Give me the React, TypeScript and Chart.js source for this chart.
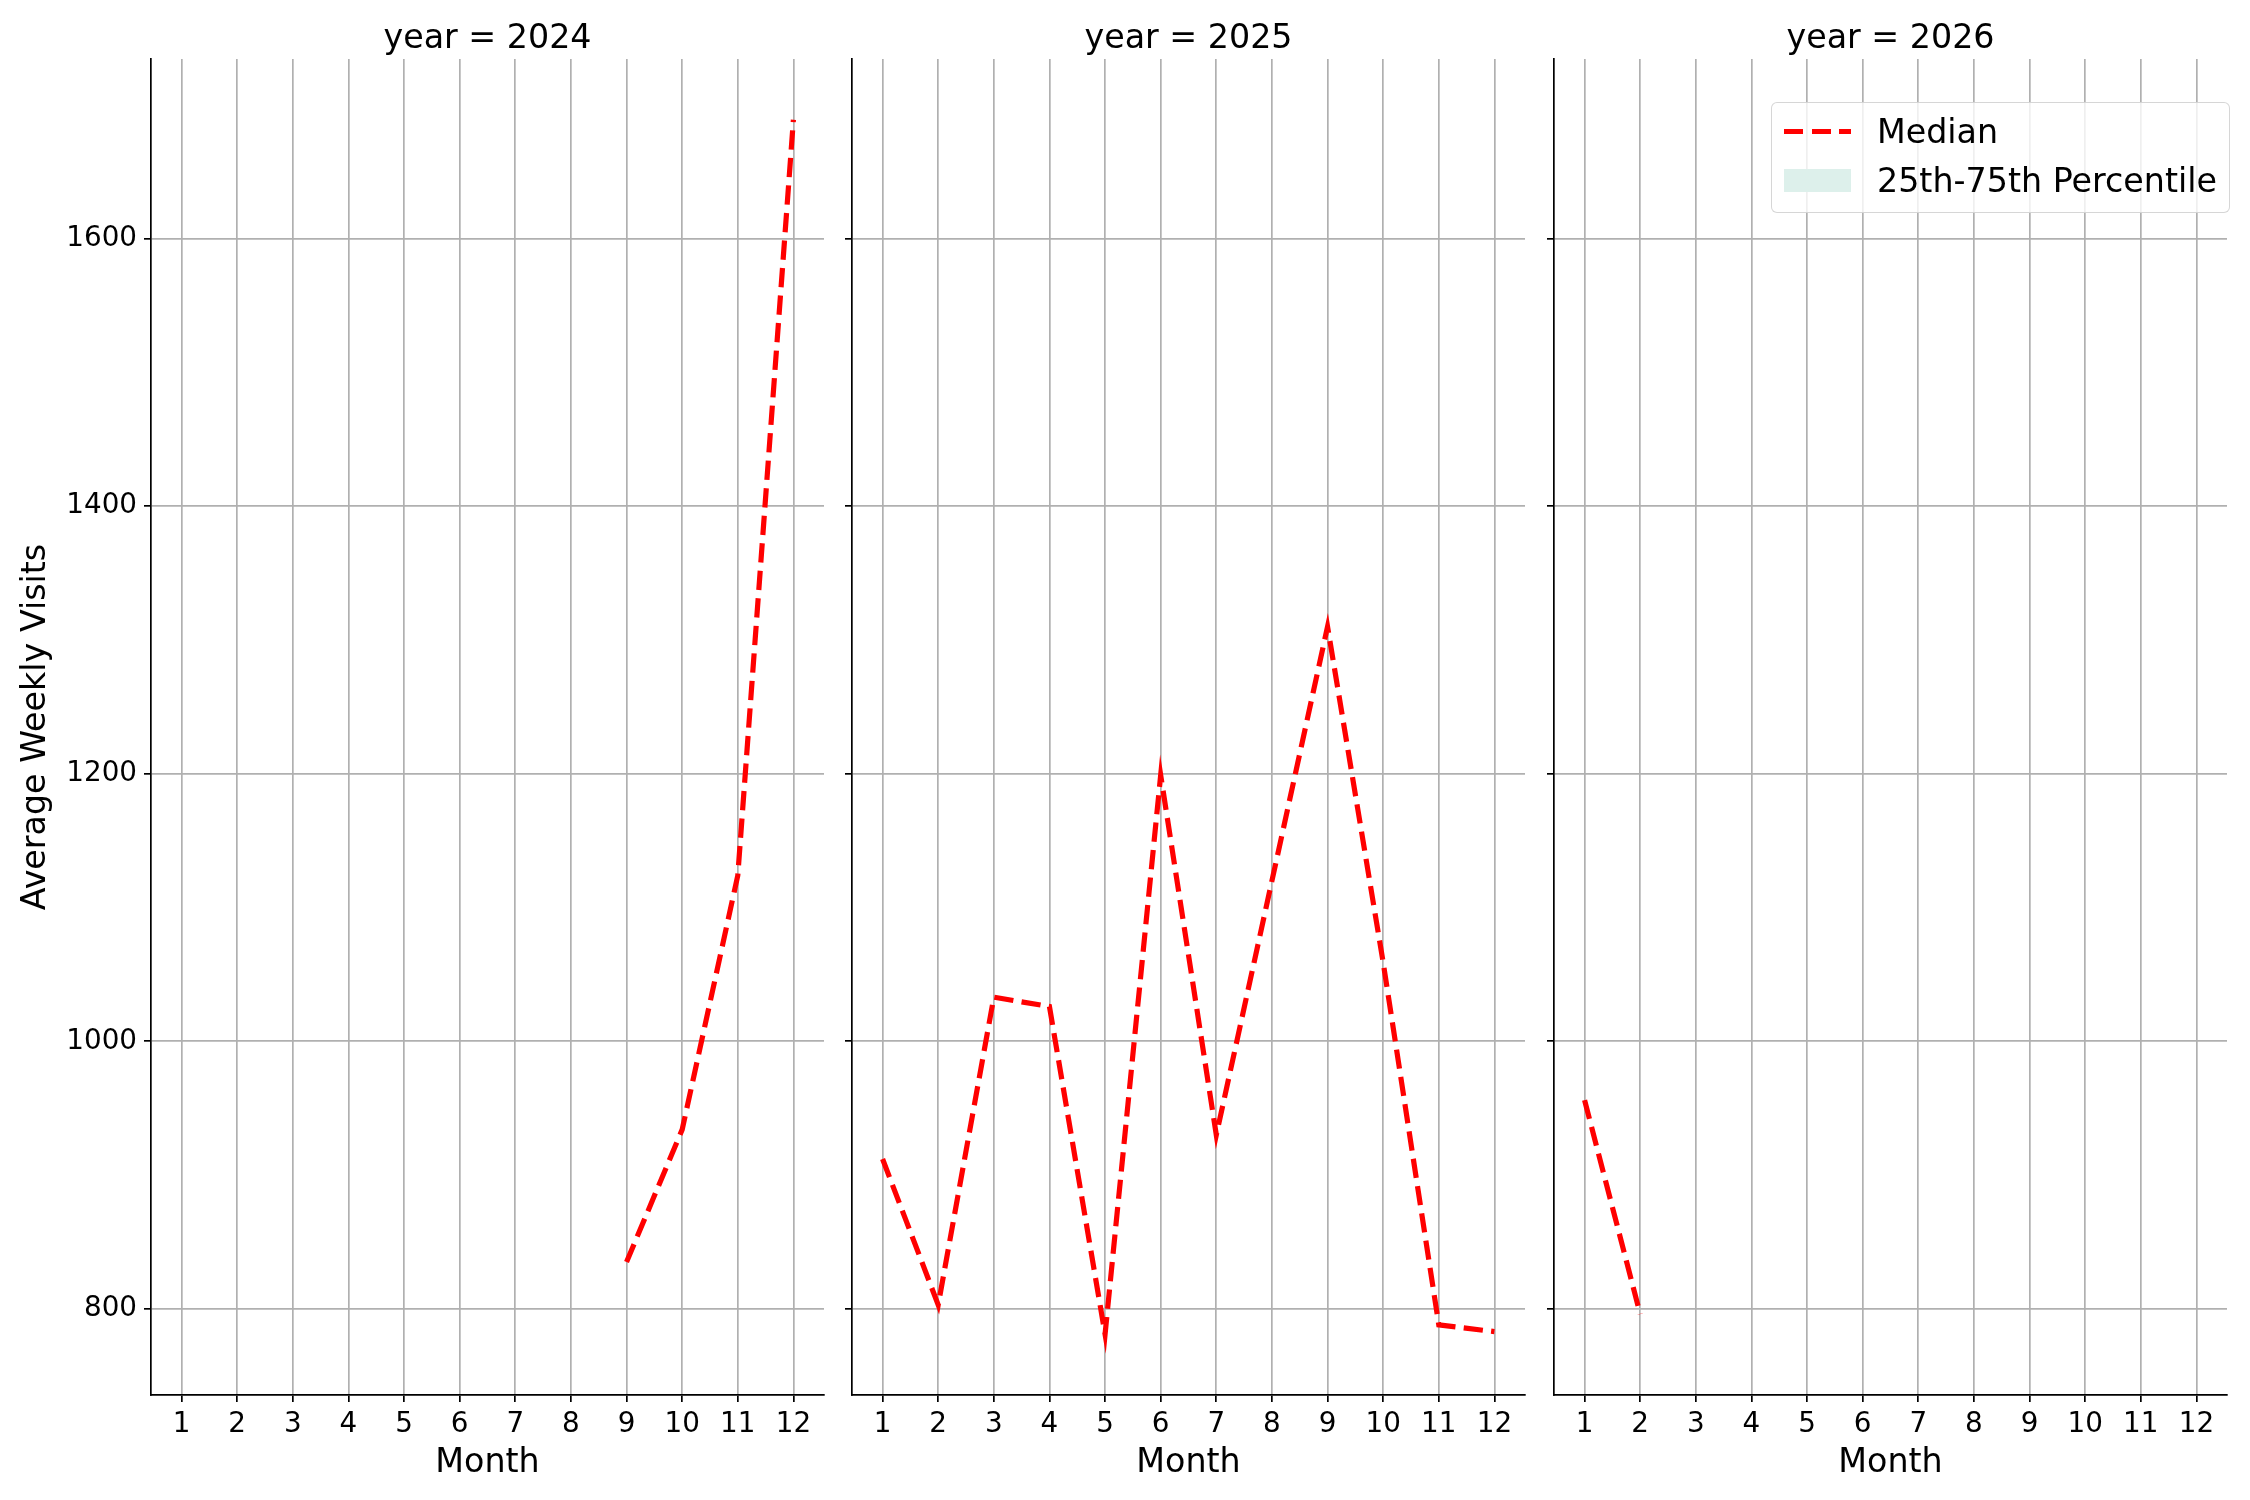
import { useEffect, useRef } from "react";
import { Chart, registerables } from "chart.js";

Chart.register(...registerables);

// x axis: months, y axis: average weekly visits
const monthTicks = [1, 2, 3, 4, 5, 6, 7, 8, 9, 10, 11, 12];
const visitTicks = [800, 1000, 1200, 1400, 1600];

const months2024 = [9, 10, 11, 12];
const median2024 = [835, 934, 1124, 1689];

const months2025 = [1, 2, 3, 4, 5, 6, 7, 8, 9, 10, 11, 12];
const median2025 = [912, 803, 1033, 1026, 781, 1199, 930, 1120, 1310, 1059, 788, 783];

const months2026 = [1, 2];
const median2026 = [956, 796];

const FONT = "DejaVu Sans";
const TICK_SIZE = 27.8;
const LABEL_SIZE = 33.3;

const allValues = [...median2024, ...median2025, ...median2026];
const yLo = Math.min(...allValues);
const yHi = Math.max(...allValues);
const yPad = (yHi - yLo) * 0.05;
const xPad = (12 - 1) * 0.05;

const PANEL_W = 673;
const AXIS_H = 105;

type PanelProps = {
  year: string;
  months: number[];
  values: number[];
  left: number;
  yAxisWidth: number;
  showYLabels: boolean;
};

function Panel({ year, months, values, left, yAxisWidth, showYLabels }: PanelProps) {
  const canvasRef = useRef<HTMLCanvasElement | null>(null);
  const width = yAxisWidth + PANEL_W + 14;

  useEffect(() => {
    if (!canvasRef.current) return;
    const chart = new Chart(canvasRef.current, {
      type: "line",
      data: {
        datasets: [
          {
            label: "Median",
            data: months.map((m, i) => ({ x: m, y: values[i] })),
            borderColor: "#ff0000",
            borderWidth: 5.2,
            borderDash: [19.3, 8.3],
            pointRadius: 0,
            fill: false,
            tension: 0,
          },
        ],
      },
      options: {
        responsive: false,
        animation: false,
        layout: { padding: { left: 0, right: 14, top: 0, bottom: 0 } },
        plugins: {
          legend: { display: false },
          tooltip: { enabled: false },
          title: {
            display: true,
            text: `year = ${year}`,
            color: "#000",
            fullSize: false,
            font: { family: FONT, size: LABEL_SIZE, weight: "normal" },
            padding: { top: 19, bottom: 0 },
          },
        },
        scales: {
          x: {
            type: "linear",
            min: 1 - xPad,
            max: 12 + xPad,
            afterBuildTicks: (s: any) => {
              s.ticks = monthTicks.map((v) => ({ value: v }));
            },
            afterFit: (s: any) => {
              s.height = AXIS_H;
            },
            grid: {
              color: "#b0b0b0",
              lineWidth: 1.7,
              tickColor: "#000",
              tickWidth: 1.7,
              tickLength: 7,
              drawTicks: true,
            },
            border: { display: true, color: "#000", width: 1.7 },
            ticks: {
              color: "#000",
              font: { family: FONT, size: TICK_SIZE },
              padding: 6,
              maxRotation: 0,
              autoSkip: false,
              callback: (v: any) => String(v),
            },
            title: {
              display: true,
              text: "Month",
              color: "#000",
              font: { family: FONT, size: LABEL_SIZE },
              padding: { top: 0, bottom: 17 },
            },
          },
          y: {
            type: "linear",
            min: yLo - yPad,
            max: yHi + yPad,
            afterBuildTicks: (s: any) => {
              s.ticks = visitTicks.map((v) => ({ value: v }));
            },
            afterFit: (s: any) => {
              s.width = yAxisWidth;
            },
            grid: {
              color: "#b0b0b0",
              lineWidth: 1.7,
              tickColor: "#000",
              tickWidth: 1.7,
              tickLength: 7,
              drawTicks: true,
            },
            border: { display: true, color: "#000", width: 1.7 },
            ticks: {
              display: showYLabels,
              color: "#000",
              font: { family: FONT, size: TICK_SIZE },
              padding: 7,
              callback: (v: any) => String(v),
            },
            title: {
              display: showYLabels,
              text: "Average Weekly Visits",
              color: "#000",
              font: { family: FONT, size: LABEL_SIZE },
              padding: { top: 16, bottom: 0 },
            },
          },
        },
      },
    });
    return () => chart.destroy();
  }, [year, months, values, yAxisWidth, showYLabels]);

  return (
    <div style={{ position: "absolute", left: left - yAxisWidth, top: 0, width, height: 1500 }}>
      <canvas ref={canvasRef} width={width} height={1500} style={{ width, height: 1500 }} />
    </div>
  );
}

function Legend() {
  return (
    <div
      style={{
        position: "absolute",
        left: 1771,
        top: 102,
        width: 459,
        height: 111,
        boxSizing: "border-box",
        border: "1.7px solid rgba(204,204,204,0.8)",
        borderRadius: 6,
        background: "rgba(255,255,255,0.8)",
        fontFamily: FONT,
        fontSize: LABEL_SIZE,
        color: "#000",
      }}
    >
      <div
        style={{
          position: "absolute",
          left: 12,
          top: 26,
          width: 67,
          height: 5.2,
          background:
            "repeating-linear-gradient(90deg, #ff0000 0px, #ff0000 19.3px, transparent 19.3px, transparent 27.6px)",
        }}
      />
      <div style={{ position: "absolute", left: 105, top: 9, lineHeight: "40px", whiteSpace: "nowrap" }}>Median</div>
      <div
        style={{ position: "absolute", left: 12, top: 66, width: 67, height: 23, background: "#ddf0eb" }}
      />
      <div style={{ position: "absolute", left: 105, top: 58, lineHeight: "40px", whiteSpace: "nowrap" }}>
        25th-75th Percentile
      </div>
    </div>
  );
}

export default function App() {
  return (
    <div style={{ position: "fixed", left: 0, top: 0, width: 2250, height: 1500, background: "#fff" }}>
      <Panel year="2024" months={months2024} values={median2024} left={151} yAxisWidth={151} showYLabels={true} />
      <Panel year="2025" months={months2025} values={median2025} left={852} yAxisWidth={20} showYLabels={false} />
      <Panel year="2026" months={months2026} values={median2026} left={1554} yAxisWidth={20} showYLabels={false} />
      <Legend />
    </div>
  );
}
